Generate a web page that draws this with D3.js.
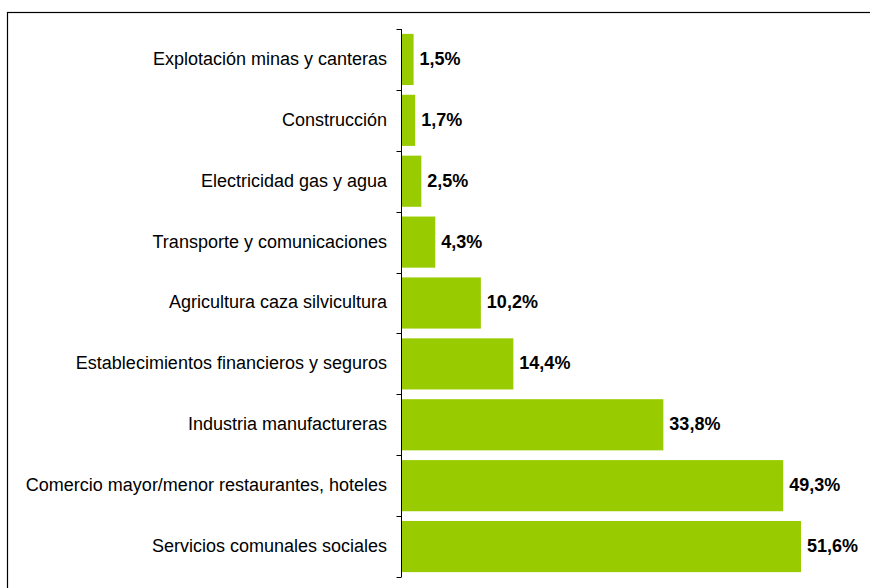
<!DOCTYPE html>
<html>
<head>
<meta charset="utf-8">
<script src="https://cdn.jsdelivr.net/npm/d3@7"></script>
<style>
  body { margin: 0; background: #fff; }
  text { font-family: "Liberation Sans", Arial, sans-serif; }
</style>
</head>
<body>
<div id="chart"></div>
<script>
var width = 870;
var height = 588;

// data, top to bottom
var sectors = [
  "Explotación minas y canteras",
  "Construcción",
  "Electricidad gas y agua",
  "Transporte y comunicaciones",
  "Agricultura caza silvicultura",
  "Establecimientos financieros y seguros",
  "Industria manufactureras",
  "Comercio mayor/menor restaurantes, hoteles",
  "Servicios comunales sociales"
];
var shares = [1.5, 1.7, 2.5, 4.3, 10.2, 14.4, 33.8, 49.3, 51.6];
var shareLabels = ["1,5%", "1,7%", "2,5%", "4,3%", "10,2%", "14,4%", "33,8%", "49,3%", "51,6%"];

var axisX = 401.5;
var plotTop = 29, plotBottom = 577;

var svg = d3.select("#chart").append("svg")
  .attr("width", width)
  .attr("height", height);

// outer frame (right and bottom edges fall outside the picture)
svg.append("rect")
  .attr("x", 7.5)
  .attr("y", 12.5)
  .attr("width", 880)
  .attr("height", 600)
  .attr("fill", "none")
  .attr("stroke", "#000")
  .attr("stroke-width", 1.2);

var y = d3.scaleBand()
  .domain(sectors)
  .range([plotTop, plotBottom])
  .paddingInner(0.16)
  .paddingOuter(0.08);

var x = d3.scaleLinear()
  .domain([0, 51.6])
  .range([axisX + 0.5, 801]);

svg.append("g")
  .selectAll("rect")
  .data(shares)
  .enter().append("rect")
  .attr("x", x(0))
  .attr("y", (d, i) => y(sectors[i]))
  .attr("width", d => x(d) - x(0))
  .attr("height", y.bandwidth())
  .attr("fill", "#99cc00");

// axis line and ticks between categories
svg.append("line")
  .attr("x1", axisX).attr("x2", axisX)
  .attr("y1", plotTop).attr("y2", plotBottom)
  .attr("stroke", "#000")
  .attr("stroke-width", 1);

var boundaries = d3.range(sectors.length + 1).map(i => plotTop + i * y.step());
svg.append("g")
  .selectAll("line")
  .data(boundaries)
  .enter().append("line")
  .attr("x1", axisX - 5).attr("x2", axisX)
  .attr("y1", d => Math.round(d) + 0.5).attr("y2", d => Math.round(d) + 0.5)
  .attr("stroke", "#000");

// category labels
svg.append("g")
  .selectAll("text")
  .data(sectors)
  .enter().append("text")
  .attr("x", 387)
  .attr("y", d => y(d) + y.bandwidth() / 2 - 1)
  .attr("dy", "0.36em")
  .attr("text-anchor", "end")
  .attr("font-size", "18px")
  .attr("fill", "#000")
  .text(d => d);

// value labels
svg.append("g")
  .selectAll("text")
  .data(shares)
  .enter().append("text")
  .attr("x", d => x(d) + 6)
  .attr("y", (d, i) => y(sectors[i]) + y.bandwidth() / 2 - 1)
  .attr("dy", "0.36em")
  .attr("font-size", "18px")
  .attr("font-weight", "bold")
  .attr("fill", "#000")
  .text((d, i) => shareLabels[i]);
</script>
</body>
</html>
